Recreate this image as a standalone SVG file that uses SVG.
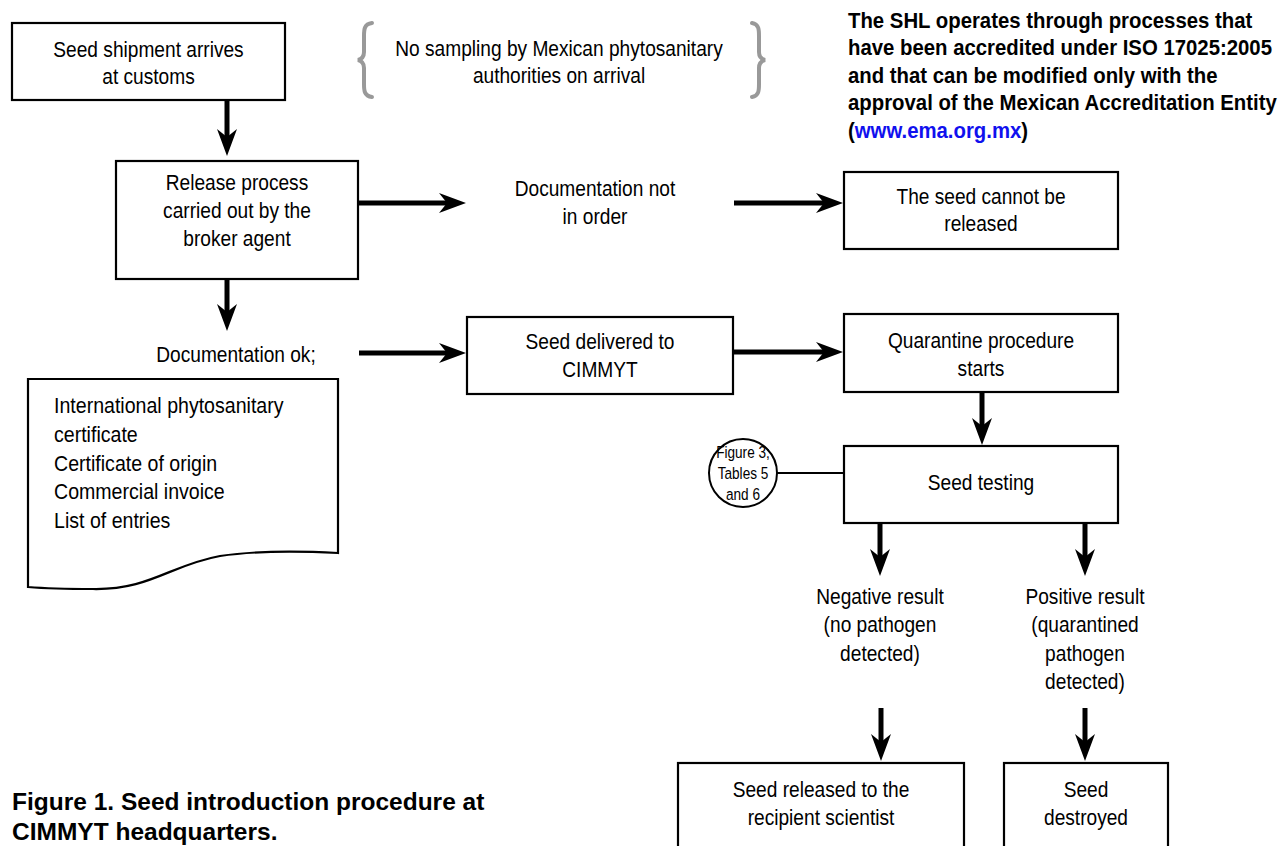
<svg xmlns="http://www.w3.org/2000/svg" width="1286" height="846" viewBox="0 0 1286 846">
<style>
.box{fill:#fff;stroke:#000;stroke-width:2.2}
.t{font-family:"Liberation Sans",Arial,sans-serif;font-size:22px;fill:#000;text-anchor:middle}
.tl{font-family:"Liberation Sans",Arial,sans-serif;font-size:22px;fill:#000}
.bold{font-family:"Liberation Sans",Arial,sans-serif;font-size:23px;font-weight:bold;fill:#000}
.cap{font-family:"Liberation Sans",Arial,sans-serif;font-size:24.5px;font-weight:bold;fill:#000}
.small{font-family:"Liberation Sans",Arial,sans-serif;font-size:17px;fill:#000;text-anchor:middle}
.arrow{stroke:#000;stroke-width:5;fill:none;marker-end:url(#ah)}
.brace{stroke:#999;stroke-width:4;fill:none;stroke-linecap:round}
</style>
<defs>
<marker id="ah" markerUnits="userSpaceOnUse" viewBox="-28 -11 29 22" refX="-18" refY="0" markerWidth="29" markerHeight="22" orient="auto">
<path d="M0,0 L-27,-10 L-19,0 L-27,10 Z" fill="#000"/>
</marker>
</defs>
<rect width="1286" height="846" fill="#fff"/>

<g id="connectors">
<line class="arrow" x1="227" y1="101" x2="227" y2="138"/>
<line class="arrow" x1="359" y1="203" x2="448" y2="203"/>
<line class="arrow" x1="734" y1="203" x2="825" y2="203"/>
<line class="arrow" x1="227" y1="280" x2="227" y2="313"/>
<line class="arrow" x1="359" y1="353" x2="448" y2="353"/>
<line class="arrow" x1="734" y1="352" x2="825" y2="352"/>
<line class="arrow" x1="982" y1="393" x2="982" y2="427"/>
<line class="arrow" x1="880" y1="524" x2="880" y2="558"/>
<line class="arrow" x1="1085" y1="524" x2="1085" y2="558"/>
<line class="arrow" x1="881" y1="708" x2="881" y2="743"/>
<line class="arrow" x1="1085" y1="708" x2="1085" y2="743"/>
<line x1="777" y1="473" x2="844" y2="473" stroke="#000" stroke-width="2"/>
</g>

<g id="n-arrive">
<rect class="box" x="12" y="23" width="273" height="77"/>
<text class="t" transform="matrix(0.87 0 0 1 148.5 0)" y="57">Seed shipment arrives</text>
<text class="t" transform="matrix(0.87 0 0 1 148.5 0)" y="84">at customs</text>
</g>

<g id="n-nosampling">
<path class="brace" d="M372,23 C364,24 364,30 364,36 L364,52 C364,56 362,59 358,60 C362,61 364,64 364,68 L364,84 C364,90 364,96 372,97"/>
<path class="brace" d="M752,23 C759,24 759,30 759,36 L759,52 C759,56 761,59 765,60 C761,61 759,64 759,68 L759,84 C759,90 759,96 752,97"/>
<text class="t" transform="matrix(0.87 0 0 1 559 0)" y="56">No sampling by Mexican phytosanitary</text>
<text class="t" transform="matrix(0.87 0 0 1 559 0)" y="83">authorities on arrival</text>
</g>

<g id="n-shl">
<text class="bold" transform="matrix(0.885 0 0 1 848 0)" y="28">The SHL operates through processes that</text>
<text class="bold" transform="matrix(0.885 0 0 1 848 0)" y="55.5">have been accredited under ISO 17025:2005</text>
<text class="bold" transform="matrix(0.885 0 0 1 848 0)" y="83">and that can be modified only with the</text>
<text class="bold" transform="matrix(0.885 0 0 1 848 0)" y="110.5">approval of the Mexican Accreditation Entity</text>
<text class="bold" transform="matrix(0.885 0 0 1 848 0)" y="138">(<tspan fill="#1010ee">www.ema.org.mx</tspan>)</text>
</g>

<g id="n-release">
<rect class="box" x="116" y="161" width="242" height="118"/>
<text class="t" transform="matrix(0.87 0 0 1 237 0)" y="190">Release process</text>
<text class="t" transform="matrix(0.87 0 0 1 237 0)" y="218">carried out by the</text>
<text class="t" transform="matrix(0.87 0 0 1 237 0)" y="246">broker agent</text>
</g>

<g id="n-docnot">
<text class="t" transform="matrix(0.87 0 0 1 595 0)" y="196">Documentation not</text>
<text class="t" transform="matrix(0.87 0 0 1 595 0)" y="224">in order</text>
</g>

<g id="n-cannot">
<rect class="box" x="844" y="172" width="274" height="77"/>
<text class="t" transform="matrix(0.87 0 0 1 981 0)" y="204">The seed cannot be</text>
<text class="t" transform="matrix(0.87 0 0 1 981 0)" y="231">released</text>
</g>

<g id="n-docok">
<text class="t" transform="matrix(0.87 0 0 1 236 0)" y="362">Documentation ok;</text>
</g>

<g id="n-documents">
<path class="box" d="M28,379 H338 V553 C300,551 260,550 220,556 C170,565 150,590 93,589 C60,589 40,588 28,587 Z"/>
<text class="tl" transform="matrix(0.89 0 0 1 54 0)" y="413">International phytosanitary</text>
<text class="tl" transform="matrix(0.89 0 0 1 54 0)" y="442">certificate</text>
<text class="tl" transform="matrix(0.89 0 0 1 54 0)" y="471">Certificate of origin</text>
<text class="tl" transform="matrix(0.89 0 0 1 54 0)" y="499">Commercial invoice</text>
<text class="tl" transform="matrix(0.89 0 0 1 54 0)" y="528">List of entries</text>
</g>

<g id="n-delivered">
<rect class="box" x="467" y="317" width="266" height="77"/>
<text class="t" transform="matrix(0.87 0 0 1 600 0)" y="349">Seed delivered to</text>
<text class="t" transform="matrix(0.87 0 0 1 600 0)" y="377">CIMMYT</text>
</g>

<g id="n-quarantine">
<rect class="box" x="844" y="314" width="274" height="78"/>
<text class="t" transform="matrix(0.87 0 0 1 981 0)" y="348">Quarantine procedure</text>
<text class="t" transform="matrix(0.87 0 0 1 981 0)" y="376">starts</text>
</g>

<g id="n-testing">
<rect class="box" x="844" y="446" width="274" height="77"/>
<text class="t" transform="matrix(0.87 0 0 1 981 0)" y="490">Seed testing</text>
</g>

<g id="n-ref">
<circle cx="743" cy="473" r="34" fill="#fff" stroke="#000" stroke-width="2"/>
<text class="small" transform="matrix(0.8 0 0 1 743 0)" y="458">Figure 3;</text>
<text class="small" transform="matrix(0.8 0 0 1 743 0)" y="479">Tables 5</text>
<text class="small" transform="matrix(0.8 0 0 1 743 0)" y="500">and 6</text>
</g>

<g id="n-negative">
<text class="t" transform="matrix(0.87 0 0 1 880 0)" y="604">Negative result</text>
<text class="t" transform="matrix(0.87 0 0 1 880 0)" y="632">(no pathogen</text>
<text class="t" transform="matrix(0.87 0 0 1 880 0)" y="661">detected)</text>
</g>

<g id="n-positive">
<text class="t" transform="matrix(0.87 0 0 1 1085 0)" y="604">Positive result</text>
<text class="t" transform="matrix(0.87 0 0 1 1085 0)" y="632">(quarantined</text>
<text class="t" transform="matrix(0.87 0 0 1 1085 0)" y="661">pathogen</text>
<text class="t" transform="matrix(0.87 0 0 1 1085 0)" y="689">detected)</text>
</g>

<g id="n-released">
<rect class="box" x="678" y="763" width="286" height="100"/>
<text class="t" transform="matrix(0.87 0 0 1 821 0)" y="797">Seed released to the</text>
<text class="t" transform="matrix(0.87 0 0 1 821 0)" y="825">recipient scientist</text>
</g>

<g id="n-destroyed">
<rect class="box" x="1004" y="763" width="164" height="100"/>
<text class="t" transform="matrix(0.87 0 0 1 1086 0)" y="797">Seed</text>
<text class="t" transform="matrix(0.87 0 0 1 1086 0)" y="825">destroyed</text>
</g>

<g id="caption">
<text class="cap" x="12" y="810">Figure 1. Seed introduction procedure at</text>
<text class="cap" x="12" y="840">CIMMYT headquarters.</text>
</g>
</svg>
